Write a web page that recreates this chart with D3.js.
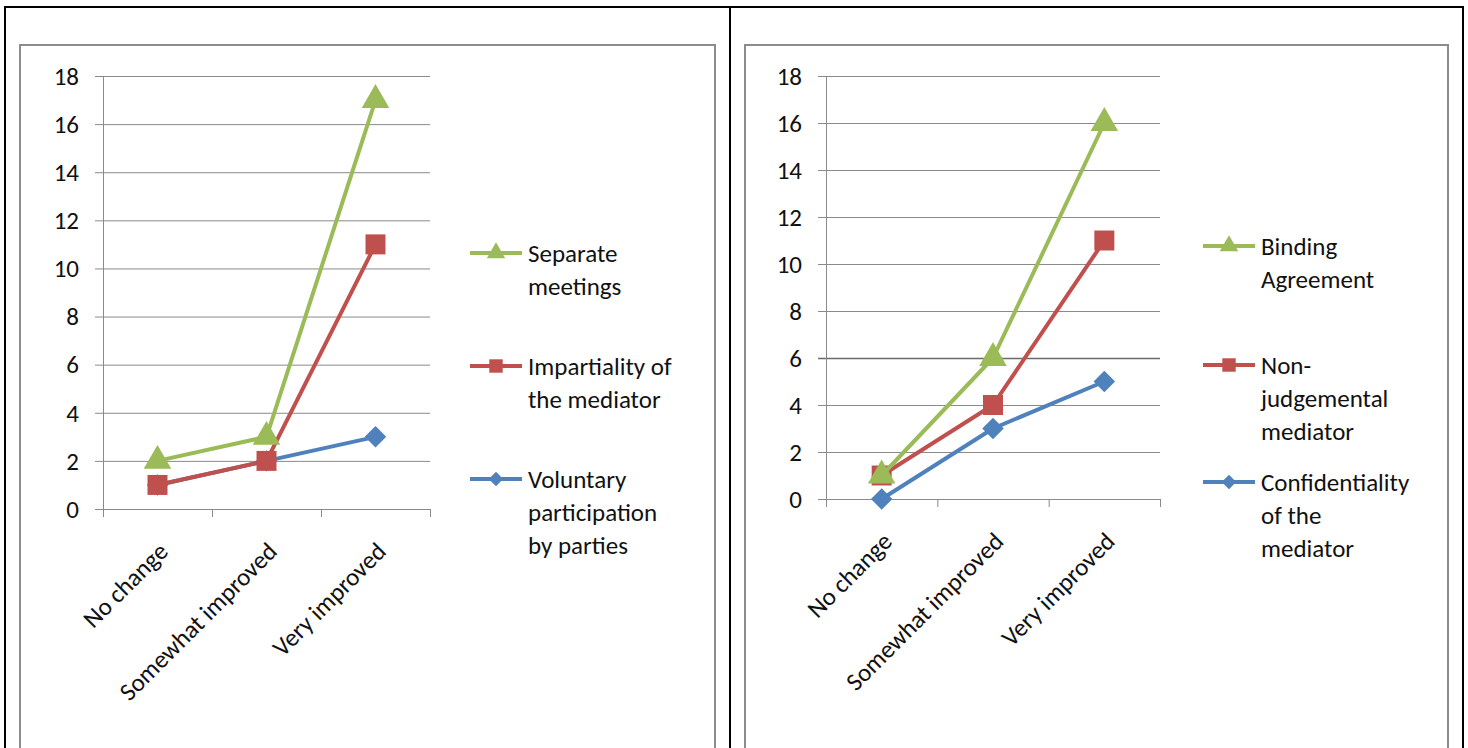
<!DOCTYPE html>
<html>
<head>
<meta charset="utf-8">
<script src="https://cdn.jsdelivr.net/npm/d3@7"></script>
<style>
  body { margin: 0; background: #fff; }
  text { font-family: Carlito, Lato, "Open Sans", sans-serif; fill: #111; }
</style>
</head>
<body>
<div id="chart"></div>
<script>
// data
const categories = ["No change", "Somewhat improved", "Very improved"];
const yTicks = [0, 2, 4, 6, 8, 10, 12, 14, 16, 18];

const leftNames = [["Voluntary", "participation", "by parties"], ["Impartiality of", "the mediator"], ["Separate", "meetings"]];
const leftVoluntary = [1, 2, 3];
const leftImpartiality = [1, 2, 11];
const leftSeparate = [2, 3, 17];

const rightNames = [["Confidentiality", "of the", "mediator"], ["Non-", "judgemental", "mediator"], ["Binding", "Agreement"]];
const rightConfidentiality = [0, 3, 5];
const rightNonJudge = [1, 4, 11];
const rightBinding = [1, 6, 16];

const colors = ["#4F81BD", "#C0504D", "#9BBB59"];
const shapes = [d3.symbolSquare, d3.symbolSquare, d3.symbolTriangle];
const shapeRot = [45, 0, 0];
const shapeSize = [230, 400, 330];

const W = 1468, H = 748;
const fontPx = 25;

const svg = d3.select("#chart").append("svg")
    .attr("width", W)
    .attr("height", H);

// table borders
svg.append("line").attr("x1", 5).attr("x2", 1464).attr("y1", 7).attr("y2", 7)
    .attr("stroke", "#000").attr("stroke-width", 2);
[5, 730, 1463].forEach(x => {
  svg.append("line").attr("x1", x).attr("x2", x).attr("y1", 6).attr("y2", H)
      .attr("stroke", "#000").attr("stroke-width", 2);
});

function drawPanel(p) {
  // chart frame
  svg.append("rect")
      .attr("x", p.box[0]).attr("y", p.box[1])
      .attr("width", p.box[2]).attr("height", p.box[3])
      .attr("fill", "#fff").attr("stroke", "#8c8c8c").attr("stroke-width", 2);

  const x = d3.scaleBand().domain(categories).range([p.x0, p.x1]);
  const y = d3.scaleLinear().domain([0, 18]).range([p.y0, p.y1]);

  const g = svg.append("g");

  // gridlines
  g.selectAll("line.grid").data(yTicks).enter().append("line")
      .attr("class", "grid")
      .attr("x1", p.x0 - 8).attr("x2", p.x1)
      .attr("y1", d => y(d) + 0.5).attr("y2", d => y(d) + 0.5)
      .attr("stroke", d => d === p.darkTick ? "#6a6a6a" : "#8a8a8a")
      .attr("stroke-width", d => d === p.darkTick ? 1.6 : 1);

  // y axis line
  g.append("line").attr("x1", p.x0 + 0.5).attr("x2", p.x0 + 0.5)
      .attr("y1", y(18)).attr("y2", y(0))
      .attr("stroke", "#8a8a8a");

  // x tick marks
  const edges = categories.map(c => x(c)).concat([p.x1]);
  g.selectAll("line.xtick").data(edges).enter().append("line")
      .attr("x1", d => d + 0.5).attr("x2", d => d + 0.5)
      .attr("y1", y(0)).attr("y2", y(0) + 8)
      .attr("stroke", "#8a8a8a");

  // y labels
  g.selectAll("text.ylab").data(yTicks).enter().append("text")
      .attr("x", p.x0 - 24).attr("y", d => y(d))
      .attr("dy", "0.35em")
      .attr("text-anchor", "end")
      .style("font-size", fontPx + "px")
      .text(d => d);

  // x labels
  g.selectAll("text.xlab").data(categories).enter().append("text")
      .attr("text-anchor", "end")
      .style("font-size", fontPx + "px")
      .attr("transform", c => `translate(${x(c) + x.bandwidth() / 2 + 12}, ${y(0) + 44}) rotate(-45)`)
      .text(c => c);

  const cx = c => x(c) + x.bandwidth() / 2;
  const line = d3.line().x((d, i) => cx(categories[i])).y(d => y(d));

  p.series.forEach((vals, k) => {
    g.append("path").datum(vals)
        .attr("d", line)
        .attr("fill", "none")
        .attr("stroke", colors[k])
        .attr("stroke-width", 4)
        .attr("stroke-linejoin", "round");
    g.selectAll(null).data(vals).enter().append("path")
        .attr("d", d3.symbol().type(shapes[k]).size(shapeSize[k]))
        .attr("transform", (d, i) => `translate(${cx(categories[i])}, ${y(d)}) rotate(${shapeRot[k]})`)
        .attr("fill", colors[k]);
  });

  // legend (top item is last series)
  p.legendY.forEach((ly, k) => {
    const lg = g.append("g").attr("transform", `translate(${p.legX}, ${ly})`);
    lg.append("line").attr("x1", 0).attr("x2", 52).attr("y1", 0).attr("y2", 0)
        .attr("stroke", colors[k]).attr("stroke-width", 4);
    lg.append("path")
        .attr("d", d3.symbol().type(shapes[k]).size(shapeSize[k] * 0.45))
        .attr("transform", `translate(26,0) rotate(${shapeRot[k]})`)
        .attr("fill", colors[k]);
    p.names[k].forEach((t, j) => {
      lg.append("text")
          .attr("x", 58).attr("y", j * 33)
          .attr("dy", "0.35em")
          .style("font-size", fontPx + "px")
          .text(t);
    });
  });
}

drawPanel({
  box: [20, 45, 695, 720],
  x0: 103, x1: 430, y0: 509, y1: 76,
  series: [leftVoluntary, leftImpartiality, leftSeparate],
  names: leftNames,
  legX: 470, legendY: [479, 366, 253],
  darkTick: null
});

drawPanel({
  box: [745, 45, 703, 720],
  x0: 826, x1: 1160, y0: 499, y1: 76,
  series: [rightConfidentiality, rightNonJudge, rightBinding],
  names: rightNames,
  legX: 1203, legendY: [482, 365, 246],
  darkTick: 6
});
</script>
</body>
</html>
